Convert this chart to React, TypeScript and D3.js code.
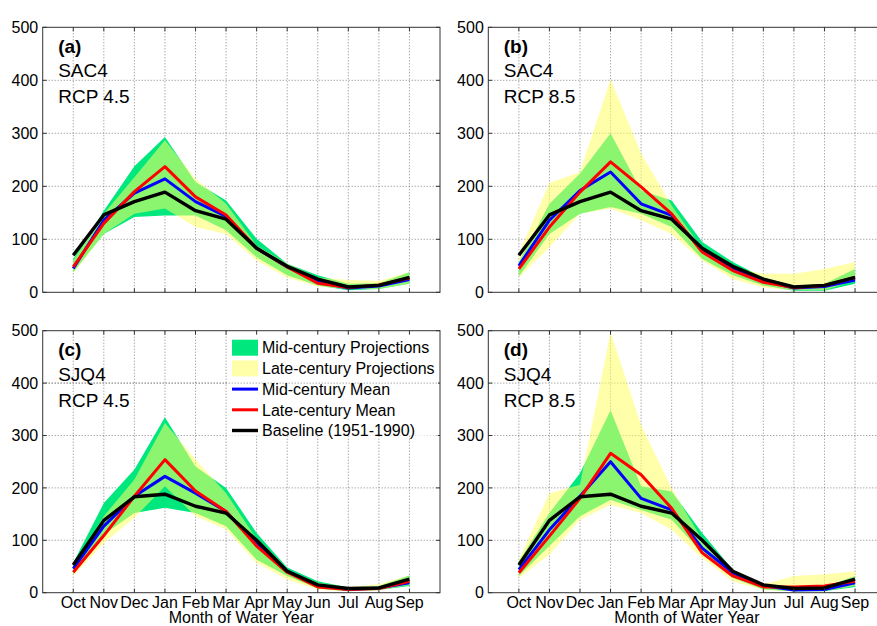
import React from "react";
import * as d3 from "d3";

const months = ["Oct", "Nov", "Dec", "Jan", "Feb", "Mar", "Apr", "May", "Jun", "Jul", "Aug", "Sep"];
const yTicks = [0, 100, 200, 300, 400, 500];

// Panel (a) SAC4 RCP 4.5
const aMidLow = [38, 110, 142, 145, 145, 117, 66, 32, 13, 4, 6, 16];
const aMidHigh = [63, 154, 238, 293, 208, 173, 101, 54, 32, 16, 17, 38];
const aLateLow = [35, 110, 148, 158, 123, 110, 60, 28, 11, 6, 6, 16];
const aLateHigh = [60, 148, 217, 287, 214, 167, 88, 54, 28, 23, 22, 38];
const aMidMean = [45, 136, 187, 214, 171, 143, 83, 48, 20, 8, 12, 24];
const aLateMean = [48, 130, 190, 237, 180, 146, 83, 48, 17, 9, 14, 27];
const sacBaseline = [70, 146, 171, 189, 154, 138, 83, 49, 25, 10, 13, 28];

// Panel (b) SAC4 RCP 8.5
const bMidLow = [30, 110, 148, 161, 148, 123, 63, 32, 13, 3, 3, 16];
const bMidHigh = [57, 167, 224, 300, 192, 173, 95, 57, 28, 13, 16, 44];
const bLateLow = [28, 85, 148, 158, 136, 110, 60, 25, 9, 4, 4, 22];
const bLateHigh = [73, 206, 227, 402, 262, 164, 82, 47, 35, 35, 44, 57];
const bMidMean = [50, 136, 192, 227, 167, 145, 79, 44, 22, 8, 11, 23];
const bLateMean = [44, 123, 189, 246, 199, 148, 76, 41, 19, 9, 13, 28];

// Panel (c) SJQ4 RCP 4.5
const cMidLow = [35, 111, 152, 162, 152, 127, 63, 32, 8, 3, 5, 13];
const cMidHigh = [57, 171, 235, 335, 241, 200, 114, 48, 22, 10, 13, 33];
const cLateLow = [32, 95, 143, 203, 146, 121, 57, 25, 6, 3, 5, 14];
const cLateHigh = [51, 146, 216, 324, 254, 190, 102, 44, 19, 11, 16, 33];
const cMidMean = [46, 127, 184, 222, 190, 155, 92, 41, 14, 6, 9, 19];
const cLateMean = [39, 109, 184, 254, 194, 155, 89, 39, 11, 6, 8, 22];
const sjqBaseline = [53, 138, 183, 188, 165, 152, 100, 41, 15, 8, 9, 26];

// Panel (d) SJQ4 RCP 8.5
const dMidLow = [32, 89, 146, 177, 158, 139, 76, 28, 6, 3, 3, 11];
const dMidHigh = [60, 152, 228, 348, 203, 193, 114, 44, 16, 9, 11, 32];
const dLateLow = [28, 73, 139, 168, 152, 120, 66, 22, 5, 3, 3, 13];
const dLateHigh = [63, 190, 206, 497, 320, 199, 101, 41, 16, 32, 35, 41];
const dMidMean = [44, 120, 184, 250, 180, 158, 85, 38, 13, 5, 6, 19];
const dLateMean = [38, 108, 180, 266, 225, 161, 76, 32, 11, 11, 13, 22];

const legendLabels = [
  "Mid-century Projections",
  "Late-century Projections",
  "Mid-century Mean",
  "Late-century Mean",
  "Baseline (1951-1990)",
];

const GREEN = "rgb(0,232,125)";
const YELLOW = "rgb(255,255,100)";
const YELLOW_OP = 0.55;
const FONT = "'Liberation Sans', Arial, Helvetica, sans-serif";

type PanelProps = {
  left: number;
  top: number;
  tag: string;
  name: string;
  rcp: string;
  midLow: number[];
  midHigh: number[];
  lateLow: number[];
  lateHigh: number[];
  midMean: number[];
  lateMean: number[];
  baseline: number[];
  xLabels: boolean;
  legend: boolean;
  height: number;
};

const W = 397.3;

function Panel(p: PanelProps) {
  const x = d3.scaleLinear().domain([0, 13]).range([p.left, p.left + W]);
  const y = d3.scaleLinear().domain([0, 500]).range([p.top + p.height, p.top]);
  const idx = d3.range(12);
  const band = (lo: number[], hi: number[]) =>
    d3
      .area<number>()
      .x((i) => x(i + 1))
      .y0((i) => y(lo[i]))
      .y1((i) => y(hi[i]))(idx) || "";
  const line = (v: number[]) =>
    d3
      .line<number>()
      .x((i) => x(i + 1))
      .y((i) => y(v[i]))(idx) || "";
  const bottom = p.top + p.height;
  const right = p.left + W;
  const gridStyle = { stroke: "#666", strokeWidth: 0.8, strokeDasharray: "1 2" };
  const lx = 232;
  const ly0 = p.top + 17;
  const rowH = 20.7;
  return (
    <g>
      {/* grid */}
      {idx.map((i) => (
        <line key={"gx" + i} x1={x(i + 1)} x2={x(i + 1)} y1={p.top} y2={bottom} style={gridStyle} />
      ))}
      {yTicks.slice(1, 5).map((t) => (
        <line key={"gy" + t} x1={p.left} x2={right} y1={y(t)} y2={y(t)} style={gridStyle} />
      ))}
      {/* bands */}
      <path d={band(p.midLow, p.midHigh)} fill={GREEN} />
      <path d={band(p.lateLow, p.lateHigh)} fill={YELLOW} fillOpacity={YELLOW_OP} />
      {/* lines */}
      <path d={line(p.midMean)} fill="none" stroke="#0000ff" strokeWidth={3} strokeLinejoin="round" />
      <path d={line(p.lateMean)} fill="none" stroke="#ff0000" strokeWidth={3} strokeLinejoin="round" />
      <path d={line(p.baseline)} fill="none" stroke="#000" strokeWidth={3.4} strokeLinejoin="round" />
      {/* box */}
      <rect x={p.left} y={p.top} width={W} height={p.height} fill="none" stroke="#333" strokeWidth={1} />
      {idx.map((i) => (
        <g key={"tk" + i}>
          <line x1={x(i + 1)} x2={x(i + 1)} y1={bottom} y2={bottom - 4} stroke="#333" />
          <line x1={x(i + 1)} x2={x(i + 1)} y1={p.top} y2={p.top + 4} stroke="#333" />
        </g>
      ))}
      {yTicks.map((t) => (
        <g key={"yt" + t}>
          <line x1={p.left} x2={p.left + 4} y1={y(t)} y2={y(t)} stroke="#333" />
          <line x1={right} x2={right - 4} y1={y(t)} y2={y(t)} stroke="#333" />
          <text
            x={p.left - 4.5}
            y={y(t)}
            dy="0.36em"
            textAnchor="end"
            fontSize={16}
            fontFamily={FONT}
            fill="#000"
          >
            {t}
          </text>
        </g>
      ))}
      {p.xLabels &&
        idx.map((i) => (
          <text
            key={"xl" + i}
            x={x(i + 1)}
            y={bottom + 15}
            textAnchor="middle"
            fontSize={16}
            fontFamily={FONT}
            fill="#000"
          >
            {months[i]}
          </text>
        ))}
      {p.xLabels && (
        <text x={p.left + W / 2} y={bottom + 30.5} textAnchor="middle" fontSize={16} fontFamily={FONT} fill="#000">
          Month of Water Year
        </text>
      )}
      {/* panel labels */}
      <text x={p.left + 15.5} y={p.top + 25.5} fontSize={19} fontWeight="bold" fontFamily={FONT} fill="#000">
        {p.tag}
      </text>
      <text x={p.left + 15.5} y={p.top + 50} fontSize={19} fontFamily={FONT} fill="#000">
        {p.name}
      </text>
      <text x={p.left + 15.5} y={p.top + 76} fontSize={19} fontFamily={FONT} fill="#000">
        {p.rcp}
      </text>
      {p.legend && (
        <g>
          <rect x={lx - 4} y={p.top + 4} width={right - lx + 2} height={101} fill="#fff" />
          <line x1={p.left} x2={right} y1={y(400)} y2={y(400)} style={gridStyle} />
          <rect x={lx} y={ly0 - 8} width={26} height={16} fill={GREEN} />
          <rect x={lx} y={ly0 + rowH - 8} width={26} height={16} fill={YELLOW} fillOpacity={YELLOW_OP} />
          <line x1={lx} x2={lx + 26} y1={ly0 + 2 * rowH} y2={ly0 + 2 * rowH} stroke="#0000ff" strokeWidth={3} />
          <line x1={lx} x2={lx + 26} y1={ly0 + 3 * rowH} y2={ly0 + 3 * rowH} stroke="#ff0000" strokeWidth={3} />
          <line x1={lx} x2={lx + 26} y1={ly0 + 4 * rowH} y2={ly0 + 4 * rowH} stroke="#000" strokeWidth={3.4} />
          {legendLabels.map((l, i) => (
            <text
              key={l}
              x={lx + 30}
              y={ly0 + i * rowH}
              dy="0.36em"
              fontSize={16}
              fontFamily={FONT}
              fill="#000"
            >
              {l}
            </text>
          ))}
        </g>
      )}
    </g>
  );
}

export default function App() {
  const L1 = 42.7;
  const L2 = 488.3;
  const T1 = 27.3;
  const T2 = 330.7;
  return (
    <div style={{ position: "absolute", left: 0, top: 0 }}>
      <svg width={877} height={626} style={{ display: "block", background: "#fff" }}>
        <rect x={0} y={0} width={877} height={626} fill="#fff" />
        <Panel
          left={L1}
          top={T1}
          height={265}
          tag="(a)"
          name="SAC4"
          rcp="RCP 4.5"
          midLow={aMidLow}
          midHigh={aMidHigh}
          lateLow={aLateLow}
          lateHigh={aLateHigh}
          midMean={aMidMean}
          lateMean={aLateMean}
          baseline={sacBaseline}
          xLabels={false}
          legend={false}
        />
        <Panel
          left={L2}
          top={T1}
          height={265}
          tag="(b)"
          name="SAC4"
          rcp="RCP 8.5"
          midLow={bMidLow}
          midHigh={bMidHigh}
          lateLow={bLateLow}
          lateHigh={bLateHigh}
          midMean={bMidMean}
          lateMean={bLateMean}
          baseline={sacBaseline}
          xLabels={false}
          legend={false}
        />
        <Panel
          left={L1}
          top={T2}
          height={262}
          tag="(c)"
          name="SJQ4"
          rcp="RCP 4.5"
          midLow={cMidLow}
          midHigh={cMidHigh}
          lateLow={cLateLow}
          lateHigh={cLateHigh}
          midMean={cMidMean}
          lateMean={cLateMean}
          baseline={sjqBaseline}
          xLabels={true}
          legend={true}
        />
        <Panel
          left={L2}
          top={T2}
          height={262}
          tag="(d)"
          name="SJQ4"
          rcp="RCP 8.5"
          midLow={dMidLow}
          midHigh={dMidHigh}
          lateLow={dLateLow}
          lateHigh={dLateHigh}
          midMean={dMidMean}
          lateMean={dLateMean}
          baseline={sjqBaseline}
          xLabels={true}
          legend={false}
        />
      </svg>
    </div>
  );
}
